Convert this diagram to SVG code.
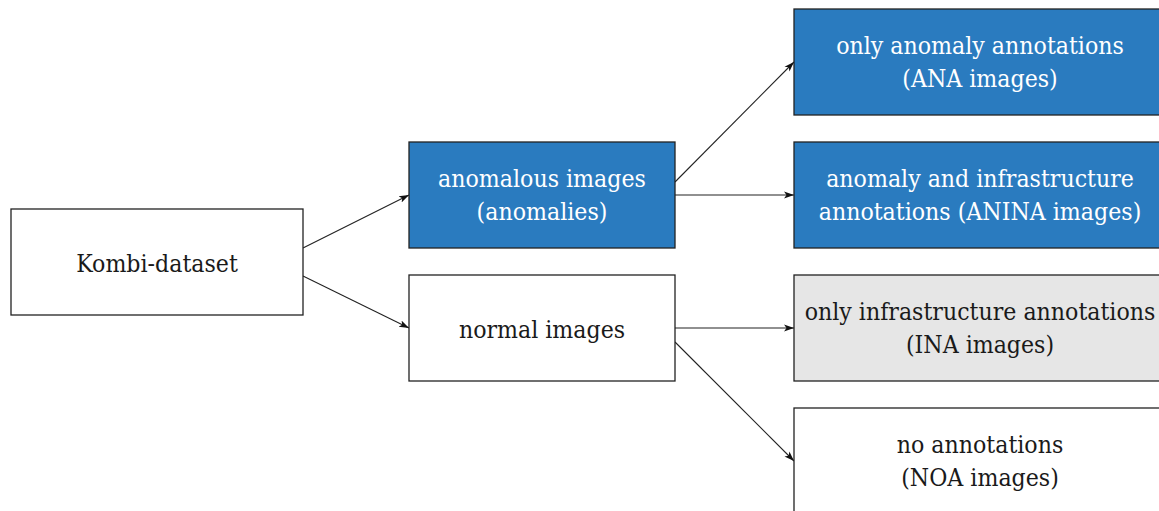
<svg xmlns="http://www.w3.org/2000/svg" width="1159" height="511" viewBox="0 0 1159 511">
  <style>
    .box { stroke: #222; stroke-width: 1.3; }
    .blue { fill: #2a7bbf; }
    .white { fill: #ffffff; }
    .grey { fill: #e6e6e6; }
    text { font-family: "DejaVu Serif Condensed", "DejaVu Serif", "Liberation Serif", serif; font-stretch: condensed; font-size: 24.6px; text-anchor: middle; }
    .light { fill: #ffffff; }
    .dark { fill: #1a1a1a; }
    .edge { stroke: #222; stroke-width: 1.1; fill: none; marker-end: url(#arrow); }
  </style>
  <defs>
    <marker id="arrow" viewBox="0 0 10 10" refX="10" refY="5" markerWidth="10" markerHeight="10" markerUnits="userSpaceOnUse" orient="auto">
      <path d="M0,1.5 L10,5 L0,8.5 L2.5,5 Z" fill="#111"/>
    </marker>
  </defs>

  <rect width="1159" height="511" fill="#ffffff"/>

  <g id="connectors">
    <line class="edge" x1="303" y1="248" x2="409" y2="195"/>
    <line class="edge" x1="303" y1="276" x2="409" y2="328"/>
    <line class="edge" x1="675" y1="182" x2="794" y2="62"/>
    <line class="edge" x1="675" y1="195" x2="794" y2="195"/>
    <line class="edge" x1="675" y1="328" x2="794" y2="328"/>
    <line class="edge" x1="675" y1="342" x2="794" y2="461"/>
  </g>

  <g id="kombi-dataset">
    <rect class="box white" x="11" y="209" width="292" height="106"/>
    <text class="dark" x="157" y="272">Kombi-dataset</text>
  </g>

  <g id="anomalous-images">
    <rect class="box blue" x="409" y="142" width="266" height="106"/>
    <text class="light" x="542" y="187">anomalous images</text>
    <text class="light" x="542" y="220">(anomalies)</text>
  </g>

  <g id="normal-images">
    <rect class="box white" x="409" y="275" width="266" height="106"/>
    <text class="dark" x="542" y="338">normal images</text>
  </g>

  <g id="ana-images">
    <rect class="box blue" x="794" y="9" width="380" height="106"/>
    <text class="light" x="980" y="54">only anomaly annotations</text>
    <text class="light" x="980" y="87">(ANA images)</text>
  </g>

  <g id="anina-images">
    <rect class="box blue" x="794" y="142" width="380" height="106"/>
    <text class="light" x="980" y="187">anomaly and infrastructure</text>
    <text class="light" x="980" y="220">annotations (ANINA images)</text>
  </g>

  <g id="ina-images">
    <rect class="box grey" x="794" y="275" width="380" height="106"/>
    <text class="dark" x="980" y="320">only infrastructure annotations</text>
    <text class="dark" x="980" y="353">(INA images)</text>
  </g>

  <g id="noa-images">
    <rect class="box white" x="794" y="408" width="380" height="120"/>
    <text class="dark" x="980" y="453">no annotations</text>
    <text class="dark" x="980" y="486">(NOA images)</text>
  </g>
</svg>
